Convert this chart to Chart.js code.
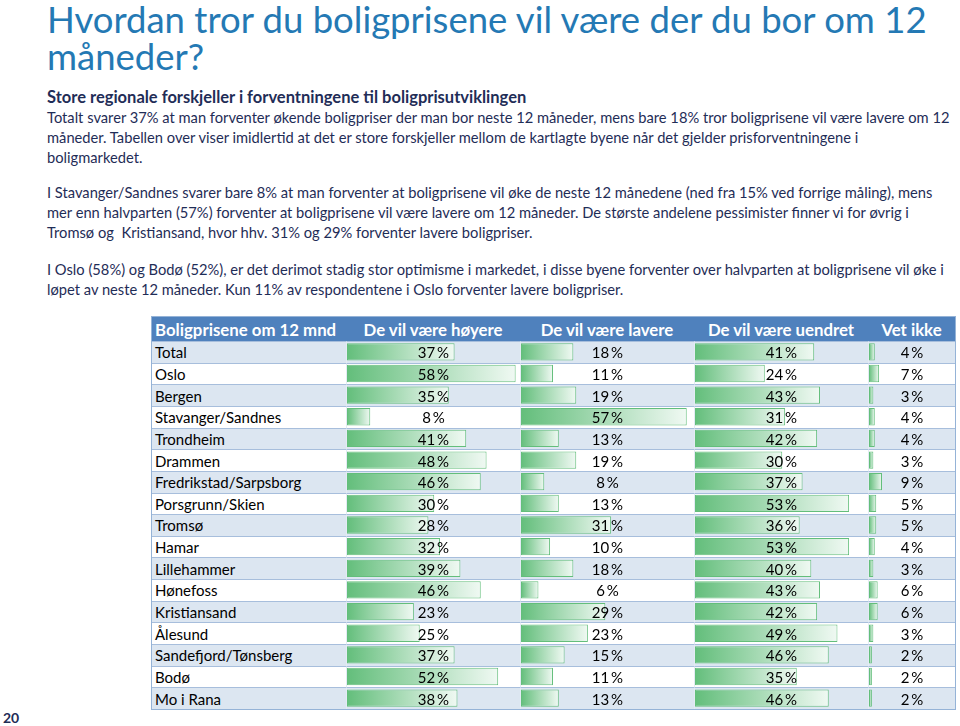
<!doctype html>
<html lang="no">
  <head>
    <meta charset="utf-8">
    <title>Boligprisene om 12 mnd</title>
    <style>
      * { margin: 0; padding: 0; box-sizing: border-box; }
      body { width: 960px; height: 726px; background: #fff; font-family: Lato, "Open Sans", sans-serif; position: relative; overflow: hidden; }
      .title { position: absolute; left: 47px; top: 1px; font-size: 36.5px; line-height: 37px; color: #2479b4; white-space: nowrap; }
      .txt { position: absolute; left: 47px; font-size: 14.7px; line-height: 20px; color: #1f2d57; white-space: nowrap; }
      .txt b { font-size: 16.5px; color: #1f2d57; }
      .pagenr { position: absolute; left: 3px; top: 709px; font-size: 14px; font-weight: bold; color: #1f2d57; }
      .tbl { position: absolute; left: 152px; top: 317px; width: 803px; height: 392px; z-index: 0;
             display: grid; grid-template-columns: 194px 174px 174px 174px 87px; grid-template-rows: 24px repeat(17, 1fr);
             outline: 1px solid #95b3d7; }
      .tbl div.c { display: flex; align-items: center; font-size: 15px; color: #000; border-top: 1px solid #a7bedc; white-space: nowrap; }
      .tbl div.h { background: #4f81bd; color: #fff; font-weight: bold; border-top: none; font-size: 16.8px; }
      .tbl div.c.v { justify-content: center; border-left: 1px solid #e4ebf4; }
      .tbl div.c.l { padding-left: 3px; }
      .tbl div.alt { background: #dce6f1; }
      .tbl span { position: relative; z-index: 2; }
      .bars { position: absolute; top: 24px; height: 368px; z-index: 1; }
    </style>
  </head>
  <body>
    <div class="title">Hvordan tror du boligprisene vil være der du bor om 12<br>måneder?</div>
    <div class="txt" style="top: 87px;"><b>Store regionale forskjeller i forventningene til boligprisutviklingen</b><br>
      Totalt svarer 37% at man forventer økende boligpriser der man bor neste 12 måneder, mens bare 18% tror boligprisene vil være lavere om 12<br>
      måneder. Tabellen over viser imidlertid at det er store forskjeller mellom de kartlagte byene når det gjelder prisforventningene i<br>
      boligmarkedet.</div>
    <div class="txt" style="top: 182px;">I Stavanger/Sandnes svarer bare 8% at man forventer at boligprisene vil øke de neste 12 månedene (ned fra 15% ved forrige måling), mens<br>
      mer enn halvparten (57%) forventer at boligprisene vil være lavere om 12 måneder. De største andelene pessimister finner vi for øvrig i<br>
      Tromsø og&nbsp; Kristiansand, hvor hhv. 31% og 29% forventer lavere boligpriser.</div>
    <div class="txt" style="top: 259px;">I Oslo (58%) og Bodø (52%), er det derimot stadig stor optimisme i markedet, i disse byene forventer over halvparten at boligprisene vil øke i<br>
      løpet av neste 12 måneder. Kun 11% av respondentene i Oslo forventer lavere boligpriser.</div>

    <div class="tbl" id="tbl"></div>
    <div class="pagenr">20</div>

    <script src="https://cdn.jsdelivr.net/npm/chart.js"></script>
    <script>
    // data
    const headers = ['Boligprisene om 12 mnd', 'De vil være høyere', 'De vil være lavere', 'De vil være uendret', 'Vet ikke'];
    const cities = ['Total', 'Oslo', 'Bergen', 'Stavanger/Sandnes', 'Trondheim', 'Drammen', 'Fredrikstad/Sarpsborg',
      'Porsgrunn/Skien', 'Tromsø', 'Hamar', 'Lillehammer', 'Hønefoss', 'Kristiansand', 'Ålesund',
      'Sandefjord/Tønsberg', 'Bodø', 'Mo i Rana'];
    const hoyere  = [37, 58, 35, 8, 41, 48, 46, 30, 28, 32, 39, 46, 23, 25, 37, 52, 38];
    const lavere  = [18, 11, 19, 57, 13, 19, 8, 13, 31, 10, 18, 6, 29, 23, 15, 11, 13];
    const uendret = [41, 24, 43, 31, 42, 30, 37, 53, 36, 53, 40, 43, 42, 49, 46, 35, 46];
    const vetIkke = [4, 7, 3, 4, 4, 3, 9, 5, 5, 4, 3, 6, 6, 3, 2, 2, 2];

    const series = [hoyere, lavere, uendret, vetIkke];
    const colLeft = [194, 368, 542, 716];
    const colWidth = [174, 174, 174, 87];

    // build table text
    const tbl = document.getElementById('tbl');
    headers.forEach((h, i) => {
      const d = document.createElement('div');
      d.className = 'c h ' + (i === 0 ? 'l' : 'v');
      d.innerHTML = '<span>' + h + '</span>';
      if (i > 0) d.style.borderLeft = 'none';
      tbl.appendChild(d);
    });
    cities.forEach((city, r) => {
      const alt = r % 2 === 0 ? ' alt' : '';
      const d = document.createElement('div');
      d.className = 'c l' + alt;
      d.innerHTML = '<span>' + city + '</span>';
      tbl.appendChild(d);
      series.forEach(s => {
        const v = document.createElement('div');
        v.className = 'c v' + alt;
        v.innerHTML = '<span>' + s[r] + '\u2009%</span>';
        tbl.appendChild(v);
      });
    });

    // bars
    function barFill(context) {
      const chart = context.chart;
      const x = chart.scales.x;
      if (!chart.chartArea || !x) return 'rgb(99,190,123)';
      const x0 = x.getPixelForValue(0);
      const x1 = x.getPixelForValue(context.raw);
      const g = chart.ctx.createLinearGradient(x0, 0, Math.max(x1, x0 + 1), 0);
      g.addColorStop(0, 'rgb(99,190,123)');
      g.addColorStop(1, 'rgb(240,249,243)');
      return g;
    }

    series.forEach((s, i) => {
      const wrap = document.createElement('div');
      wrap.className = 'bars';
      wrap.style.left = (colLeft[i] + 1) + 'px';
      wrap.style.width = (colWidth[i] - 1) + 'px';
      const cv = document.createElement('canvas');
      wrap.appendChild(cv);
      tbl.appendChild(wrap);
      new Chart(cv, {
        type: 'bar',
        data: {
          labels: cities,
          datasets: [{
            data: s,
            backgroundColor: barFill,
            borderColor: 'rgb(99,190,123)',
            borderWidth: 1,
            borderSkipped: false,
            barPercentage: 0.8,
            categoryPercentage: 1
          }]
        },
        options: {
          indexAxis: 'y',
          responsive: true,
          maintainAspectRatio: false,
          animation: false,
          layout: { padding: 0 },
          plugins: { legend: { display: false }, tooltip: { enabled: false } },
          scales: {
            x: { display: false, min: 0, max: 59.5 },
            y: { display: false }
          }
        }
      });
    });
    </script>
  </body>
</html>
